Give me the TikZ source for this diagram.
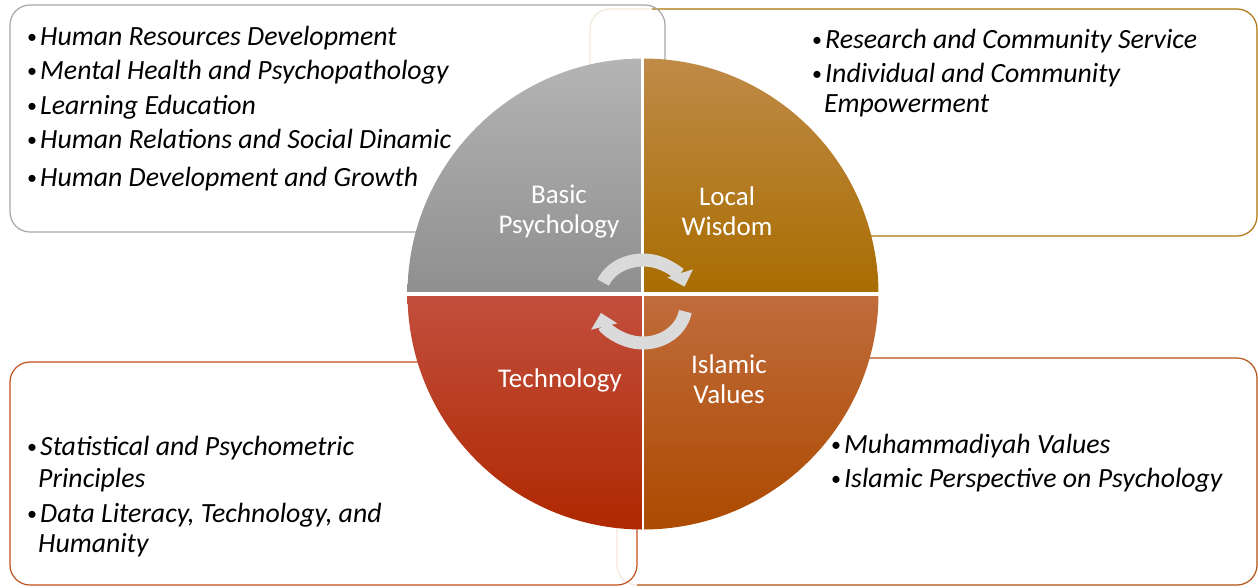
\documentclass[tikz,border=0pt]{standalone}
\usepackage{fontspec}
\setmainfont{Carlito}
\usetikzlibrary{arrows.meta}
\definecolor{grayTL}{HTML}{A6A6A6}
\definecolor{brownTR}{HTML}{B07A14}
\definecolor{faintTR}{HTML}{F2E9D8}
\definecolor{redBL}{HTML}{C2501E}
\definecolor{brownBR}{HTML}{B5561A}
\definecolor{faintBR}{HTML}{F6E6DC}
\definecolor{tlTop}{HTML}{B4B4B4}
\definecolor{tlBot}{HTML}{8F8F8F}
\definecolor{trTop}{HTML}{C08A48}
\definecolor{trBot}{HTML}{A86D00}
\definecolor{blTop}{HTML}{C24F3E}
\definecolor{blBot}{HTML}{AF2800}
\definecolor{brTop}{HTML}{C06C3C}
\definecolor{brBot}{HTML}{AC4A00}
\definecolor{arrowgray}{HTML}{DADADA}
\tikzset{
  box/.style={rounded corners=20pt, line width=1.2pt},
  item/.style={anchor=base west, inner sep=0pt, font=\fontsize{27.8}{32}\selectfont\itshape},
  lab/.style={text=white, align=center, inner sep=0pt, font=\fontsize{27}{30}\selectfont},
  cyc/.style={line width=13pt, draw=arrowgray, -{Triangle[width=26pt,length=14pt]}}
}
\newcommand{\bul}{\llap{\raisebox{1.8pt}{\upshape\fontsize{20}{20}\selectfont\textbullet}\kern3pt}}
\begin{document}
\begin{tikzpicture}[x=1pt,y=-1pt]
\useasboundingbox (0,0) rectangle (1258,587);
\fill[white] (0,0) rectangle (1258,587);
% boxes
\draw[box, draw=faintTR] (590,9) rectangle (1257,236);
\begin{scope}
  \clip (652,0) rectangle (1258,300);
  \draw[box, draw=brownTR] (590,9) rectangle (1257,236);
\end{scope}
\draw[box, draw=grayTL] (10,5) rectangle (665,232);
\draw[box, draw=faintBR] (617,358) rectangle (1257,585);
\begin{scope}
  \clip (637,340) rectangle (1258,587);
  \draw[box, draw=brownBR] (617,358) rectangle (1257,585);
\end{scope}
\draw[box, draw=redBL] (10,362) rectangle (637,585);
% circle quadrants
\coordinate (O) at (643,294);
\def\R{235.5}
\shade[top color=tlTop, bottom color=tlBot] (O) -- ++(0,-\R) arc[start angle=-90, end angle=-180, radius=\R] -- cycle;
\shade[top color=trTop, bottom color=trBot] (O) -- ++(0,-\R) arc[start angle=-90, end angle=0, radius=\R] -- cycle;
\shade[top color=brTop, bottom color=brBot] (O) -- ++(\R,0) arc[start angle=0, end angle=90, radius=\R] -- cycle;
\shade[top color=blTop, bottom color=blBot] (O) -- ++(0,\R) arc[start angle=90, end angle=180, radius=\R] -- cycle;
\begin{scope}
  \clip (O) circle[radius=\R+1];
  \fill[white] (641,50) rectangle (644.2,294);
  \fill[white] (642.3,294) rectangle (643.8,540);
  \fill[white] (400,292) rectangle (890,295.5);
\end{scope}
% cycle arrows
\coordinate (A1) at (643,296);
\coordinate (A2) at (643,305);
\draw[cyc] ([shift={(-158:43 and 36)}]A1) arc[start angle=-158, end angle=-15, x radius=43, y radius=36];
\draw[cyc] ([shift={(10:43 and 38)}]A2) arc[start angle=10, end angle=168, x radius=43, y radius=38];
% labels
\node[lab] (l1) at (559,212) {Basic\\Psychology};
\node[lab] (l2) at (727,211) {Local\\Wisdom};
\node[lab] (l3) at (560,380) {Technology};
\node[lab] (l4) at (729,379) {Islamic\\Values};
% top-left items
\node[item] (a1) at (40,45) {\bul Human Resources Development};
\node[item] (a2) at (40,79) {\bul Mental Health and Psychopathology};
\node[item] (a3) at (40,114) {\bul Learning Education};
\node[item] (a4) at (40,148) {\bul Human Relations and Social Dinamic};
\node[item] (a5) at (40,186) {\bul Human Development and Growth};
% top-right items
\node[item] (b1) at (825,48) {\bul Research and Community Service};
\node[item] (b2) at (825,82) {\bul Individual and Community};
\node[item] (b3) at (824,112) {Empowerment};
% bottom-left items
\node[item] (c1) at (40,455) {\bul Statistical and Psychometric};
\node[item] (c2) at (38,487) {Principles};
\node[item] (c3) at (40,522) {\bul Data Literacy, Technology, and};
\node[item] (c4) at (38,552) {Humanity};
% bottom-right items
\node[item] (d1) at (844,453) {\bul Muhammadiyah Values};
\node[item] (d2) at (844,487) {\bul Islamic Perspective on Psychology};
\end{tikzpicture}
\end{document}
